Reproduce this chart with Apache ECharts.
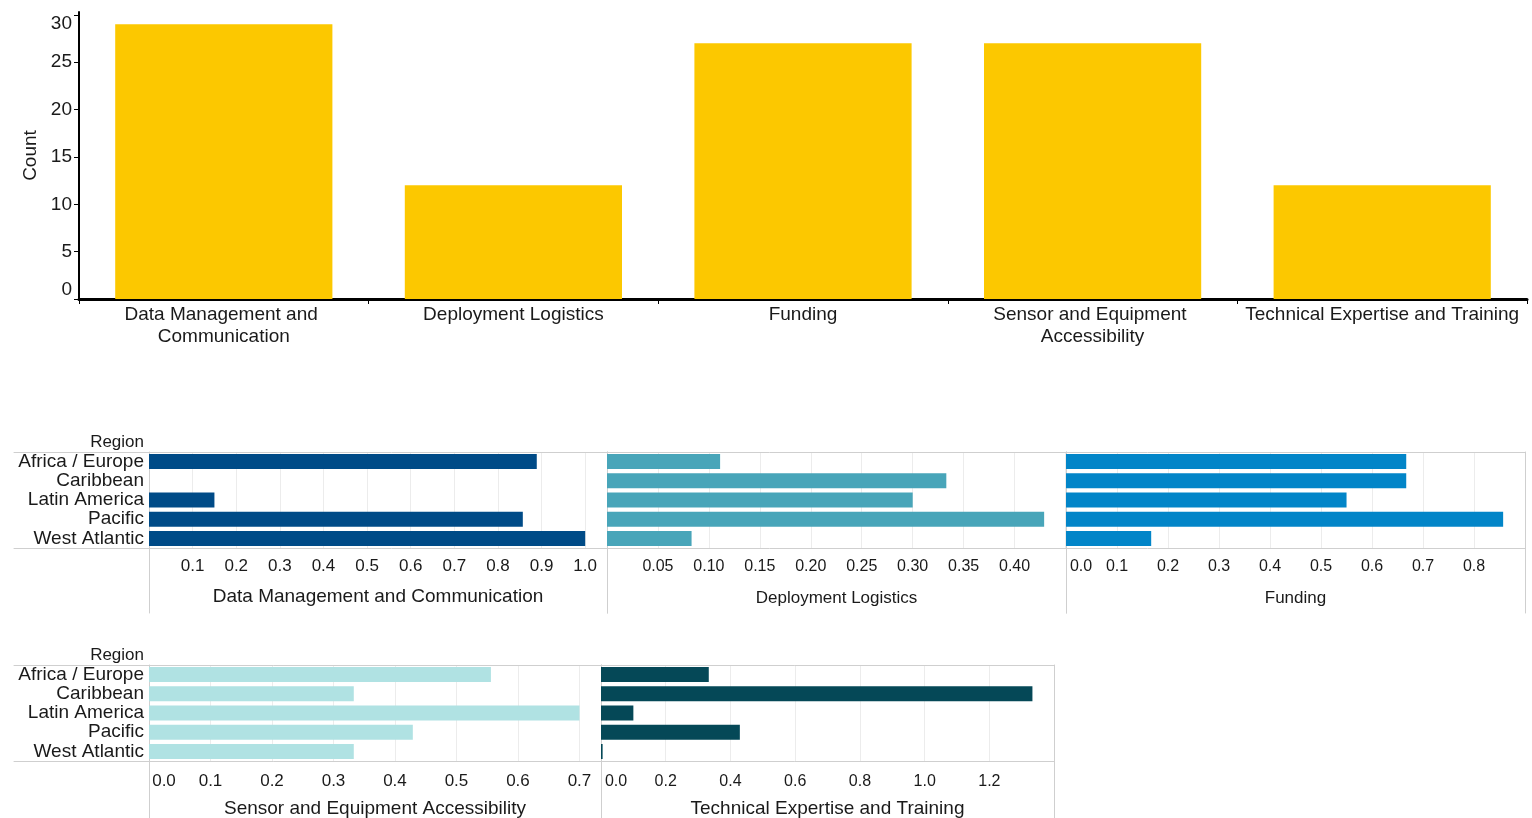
<!DOCTYPE html>
<html><head><meta charset="utf-8">
<script src="https://cdn.jsdelivr.net/npm/echarts@6/dist/echarts.min.js"></script>
<style>html,body{margin:0;padding:0;background:#fff}#c{width:1532px;height:818px}</style>
</head><body><div id="c"></div>
<script>
// ---------- data ----------
const categories = ['Data Management and Communication', 'Deployment Logistics', 'Funding', 'Sensor and Equipment Accessibility', 'Technical Expertise and Training'];
const counts = [29, 12, 27, 27, 12];
const countTicks = ['0', '5', '10', '15', '20', '25', '30'];

const regions = ['Africa / Europe', 'Caribbean', 'Latin America', 'Pacific', 'West Atlantic'];
const dataMgmt   = [0.889, 0, 0.15, 0.857, 1.0];
const deployment = [0.111, 0.333, 0.30, 0.429, 0.083];
const funding    = [0.667, 0.667, 0.55, 0.857, 0.167];
const sensor     = [0.556, 0.333, 0.70, 0.429, 0.333];
const technical  = [0.333, 1.333, 0.10, 0.429, 0.005];

const dataMgmtTicks   = ['0.1', '0.2', '0.3', '0.4', '0.5', '0.6', '0.7', '0.8', '0.9', '1.0'];
const deploymentTicks = ['0.05', '0.10', '0.15', '0.20', '0.25', '0.30', '0.35', '0.40'];
const fundingTicks    = ['0.0', '0.1', '0.2', '0.3', '0.4', '0.5', '0.6', '0.7', '0.8'];
const sensorTicks     = ['0.0', '0.1', '0.2', '0.3', '0.4', '0.5', '0.6', '0.7'];
const technicalTicks  = ['0.0', '0.2', '0.4', '0.6', '0.8', '1.0', '1.2'];

// ---------- layout / style ----------
const FONT = "'Liberation Sans', Arial, Helvetica, sans-serif";
const TXT = '#1a1a1a';
const FRAME = '#cfcfcf';
const GRIDC = '#ececec';

const panels = [
  {title: categories[0], data: dataMgmt,   ticks: dataMgmtTicks,   step: 0.1,  dec: 1, color: '#004b87', left: 149,  width: 458, top: 452, lab: 17, tsize: 19, cats: true,  lm: 10, ng: 39},
  {title: categories[1], data: deployment, ticks: deploymentTicks, step: 0.05, dec: 2, color: '#48a5b9', left: 607,  width: 459, top: 452, lab: 16, tsize: 17, cats: false, lm: 11, ng: 42},
  {title: categories[2], data: funding,    ticks: fundingTicks,    step: 0.1,  dec: 1, color: '#0285c8', left: 1066, width: 459, top: 452, lab: 16, tsize: 17, cats: false, lm: 11, ng: 42},
  {title: categories[3], data: sensor,     ticks: sensorTicks,     step: 0.1,  dec: 1, color: '#b0e2e3', left: 149,  width: 452, top: 665, lab: 17, tsize: 19, cats: true,  lm: 12, ng: 38},
  {title: categories[4], data: technical,  ticks: technicalTicks,  step: 0.2,  dec: 1, color: '#054857', left: 601,  width: 453, top: 665, lab: 16, tsize: 19, cats: false, lm: 13, ng: 38}
];
const PH = 96;

const grid = [], xAxis = [], yAxis = [], series = [];

// ---------- top chart ----------
grid.push({left: 79, top: 12, width: 1448, height: 287, outerBoundsMode: 'none', containLabel: false});
xAxis.push({
  gridIndex: 0, type: 'category', data: categories,
  axisLine: {show: true, lineStyle: {color: '#000', width: 3}},
  axisTick: {show: true, length: 5, lineStyle: {color: '#000', width: 1}},
  axisLabel: {interval: 0, margin: 5, color: TXT, fontFamily: FONT, fontSize: 19, lineHeight: 22, width: 285, overflow: 'break'},
  splitLine: {show: false}
});
yAxis.push({
  gridIndex: 0, type: 'value', min: 0, max: 30.3, interval: 5,
  name: 'Count', nameLocation: 'middle', nameGap: 35,
  nameTextStyle: {color: TXT, fontFamily: FONT, fontSize: 19},
  axisLine: {show: true, lineStyle: {color: '#000', width: 2}},
  axisTick: {show: true, length: 5, lineStyle: {color: '#000'}, customValues: countTicks.map(Number)},
  axisLabel: {
    margin: 7, color: TXT, fontFamily: FONT, fontSize: 19,
    formatter: v => {
      const s = String(Math.round(v));
      if (!countTicks.includes(s) || Math.abs(v - Number(s)) > 1e-6) return '';
      if (s === countTicks[countTicks.length - 1]) return '{t|' + s + '}';
      if (s === countTicks[0]) return '{b|' + s + '}';
      return s;
    },
    rich: {
      t: {padding: [18, 0, 0, 0], color: TXT, fontFamily: FONT, fontSize: 19},
      b: {padding: [0, 0, 18, 0], color: TXT, fontFamily: FONT, fontSize: 19}
    }
  },
  splitLine: {show: false}
});
series.push({type: 'bar', xAxisIndex: 0, yAxisIndex: 0, data: counts, barCategoryGap: '25%', itemStyle: {color: '#fcc800'}, silent: true});

// ---------- frames (decorative axis lines) ----------
function hiddenAxis(gi, extra) {
  return Object.assign({gridIndex: gi, type: 'value', min: 0, max: 1, axisLabel: {show: false}, axisTick: {show: false}, splitLine: {show: false}, axisLine: {show: false}}, extra || {});
}
function addHFrame(left, right, top) {
  const gi = grid.length;
  grid.push({left: left, top: top, width: right - left, height: PH, outerBoundsMode: 'none', containLabel: false});
  xAxis.push(hiddenAxis(gi, {position: 'top', axisLine: {show: true, onZero: false, lineStyle: {color: FRAME, width: 1}}}));
  xAxis.push(hiddenAxis(gi, {position: 'bottom', axisLine: {show: true, onZero: false, lineStyle: {color: FRAME, width: 1}}}));
  yAxis.push(hiddenAxis(gi, {show: false}));
}
function addVFrame(left, width, top, bottom) {
  const gi = grid.length;
  grid.push({left: left, top: top, width: width, height: bottom - top, outerBoundsMode: 'none', containLabel: false});
  xAxis.push(hiddenAxis(gi, {show: false}));
  yAxis.push(hiddenAxis(gi, {position: 'left', axisLine: {show: true, onZero: false, lineStyle: {color: FRAME, width: 1}}}));
  yAxis.push(hiddenAxis(gi, {position: 'right', axisLine: {show: true, onZero: false, lineStyle: {color: FRAME, width: 1}}}));
}
addHFrame(14, 1525, 452);
addHFrame(14, 1054, 665);
panels.forEach(p => addVFrame(p.left, p.width, p.top, p.top === 452 ? 613 : 818));

// ---------- facet panels ----------
panels.forEach(p => {
  const gi = grid.length;
  const xi = xAxis.length, yi = yAxis.length;
  const max = Math.max(...p.data) * 1.05;
  grid.push({left: p.left, top: p.top, width: p.width, height: PH, outerBoundsMode: 'none', containLabel: false});
  xAxis.push({
    gridIndex: gi, type: 'value', min: 0, max: max, interval: p.step,
    name: p.title, nameLocation: 'middle', nameGap: p.ng,
    nameTextStyle: {color: TXT, fontFamily: FONT, fontSize: p.tsize},
    axisLine: {show: false}, axisTick: {show: false},
    splitLine: {show: true, lineStyle: {color: GRIDC, width: 1}},
    axisLabel: {
      margin: p.lm, color: TXT, fontFamily: FONT, fontSize: p.lab, hideOverlap: false,
      showMinLabel: true, showMaxLabel: true,
      formatter: v => {
        const s = v.toFixed(p.dec);
        if (!p.ticks.includes(s) || Math.abs(parseFloat(s) - v) > 1e-6) return '';
        return parseFloat(s) === 0 ? '{z|' + s + '}' : s;
      },
      rich: {z: {padding: [0, 0, 0, 30], color: TXT, fontFamily: FONT, fontSize: p.lab}}
    }
  });
  yAxis.push({
    gridIndex: gi, type: 'category', data: regions, inverse: true,
    axisLine: {show: false}, axisTick: {show: false}, splitLine: {show: false},
    axisLabel: {show: p.cats, interval: 0, margin: 5, color: TXT, fontFamily: FONT, fontSize: 19}
  });
  series.push({type: 'bar', xAxisIndex: xi, yAxisIndex: yi, data: p.data, barCategoryGap: '22%', itemStyle: {color: p.color}, silent: true});
});

const chart = echarts.init(document.getElementById('c'), null, {renderer: 'canvas'});
chart.setOption({
  animation: false,
  backgroundColor: '#fff',
  textStyle: {fontFamily: FONT},
  grid: grid, xAxis: xAxis, yAxis: yAxis, series: series,
  graphic: [
    {type: 'text', x: 144, y: 442, style: {text: 'Region', fill: TXT, font: '17px ' + FONT, textAlign: 'right', textVerticalAlign: 'middle'}},
    {type: 'text', x: 144, y: 655, style: {text: 'Region', fill: TXT, font: '17px ' + FONT, textAlign: 'right', textVerticalAlign: 'middle'}}
  ]
});
</script>
</body></html>
